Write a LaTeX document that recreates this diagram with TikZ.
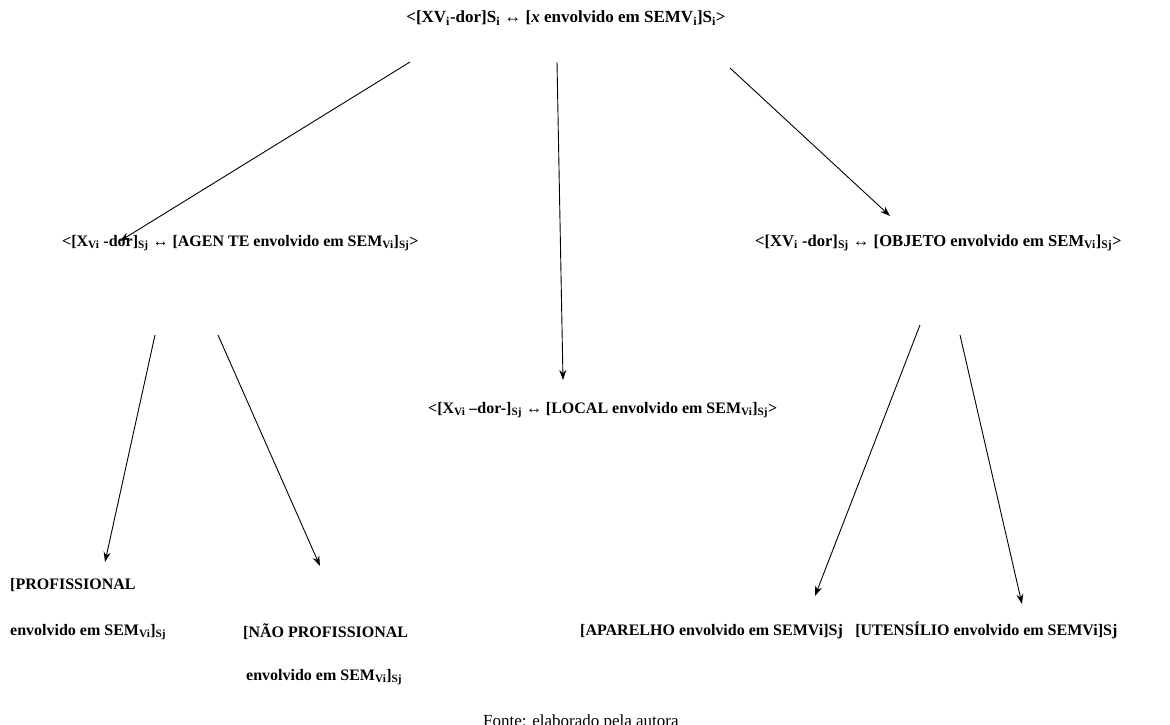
\documentclass[tikz,border=0pt]{standalone}
\usepackage{fontspec}
\setmainfont{Liberation Serif}
\usetikzlibrary{arrows.meta}
\newcommand{\sbs}[1]{\textsubscript{#1}}
\tikzset{
  lbl/.style={font=\bfseries\fontsize{16}{18}\selectfont, inner sep=0pt, anchor=west},
  toplbl/.style={font=\bfseries\fontsize{17}{19}\selectfont, inner sep=0pt},
  note/.style={font=\fontsize{17}{19}\selectfont, inner sep=0pt},
  arr/.style={-{Stealth[length=10pt,width=7pt]}, line width=0.9pt, draw=black}
}
\begin{document}
\begin{tikzpicture}[x=1pt,y=-1pt]
\clip (0,0) rectangle (1170,724);
\fill[white] (0,0) rectangle (1170,724);
% nodes
\node[toplbl] (top) at (566,18) {<[XV\sbs{i}-dor]S\sbs{i} ↔ [\textit{x} envolvido em SEMV\sbs{i}]S\sbs{i}>};
\node[lbl] (agente) at (62,243) {<[X\sbs{Vi} -dor]\sbs{Sj} ↔ [AGEN TE envolvido em SEM\sbs{Vi}]\sbs{Sj}>};
\node[lbl, font=\bfseries\fontsize{16.6}{18}\selectfont] (objeto) at (755,243) {<[XV\sbs{i} -dor]\sbs{Sj} ↔ [OBJETO envolvido em SEM\sbs{Vi}]\sbs{Sj}>};
\node[lbl] (local) at (428,410) {<[X\sbs{Vi} --dor-]\sbs{Sj} ↔ [LOCAL envolvido em SEM\sbs{Vi}]\sbs{Sj}>};
\node[lbl] (prof1) at (10,585) {[PROFISSIONAL};
\node[lbl] (prof2) at (10,632) {envolvido em SEM\sbs{Vi}]\sbs{Sj}};
\node[lbl] (nprof1) at (243,632) {[NÃO PROFISSIONAL};
\node[lbl] (nprof2) at (246,677) {envolvido em SEM\sbs{Vi}]\sbs{Sj}};
\node[lbl] (apar) at (580,632) {[APARELHO envolvido em SEMVi]Sj};
\node[lbl, anchor=base west] (uten) at ([xshift=12pt]apar.base east) {[UTENSÍLIO envolvido em SEMVi]Sj};
\node[note, anchor=north west] (fonte) at (483,714) {Fonte: elaborado pela autora};
% connector end points
\coordinate (a1s) at (410,62);  \coordinate (a1e) at (120,241);
\coordinate (a2s) at (557,62);  \coordinate (a2e) at (563,380);
\coordinate (a3s) at (730,68);  \coordinate (a3e) at (890,216);
\coordinate (a4s) at (155,335); \coordinate (a4e) at (105,562);
\coordinate (a5s) at (218,335); \coordinate (a5e) at (320,566);
\coordinate (a6s) at (920,325); \coordinate (a6e) at (815,596);
\coordinate (a7s) at (960,335); \coordinate (a7e) at (1022,604);
\draw[arr] (a1s) -- (a1e);
\draw[arr] (a2s) -- (a2e);
\draw[arr] (a3s) -- (a3e);
\draw[arr] (a4s) -- (a4e);
\draw[arr] (a5s) -- (a5e);
\draw[arr] (a6s) -- (a6e);
\draw[arr] (a7s) -- (a7e);
\end{tikzpicture}
\end{document}
